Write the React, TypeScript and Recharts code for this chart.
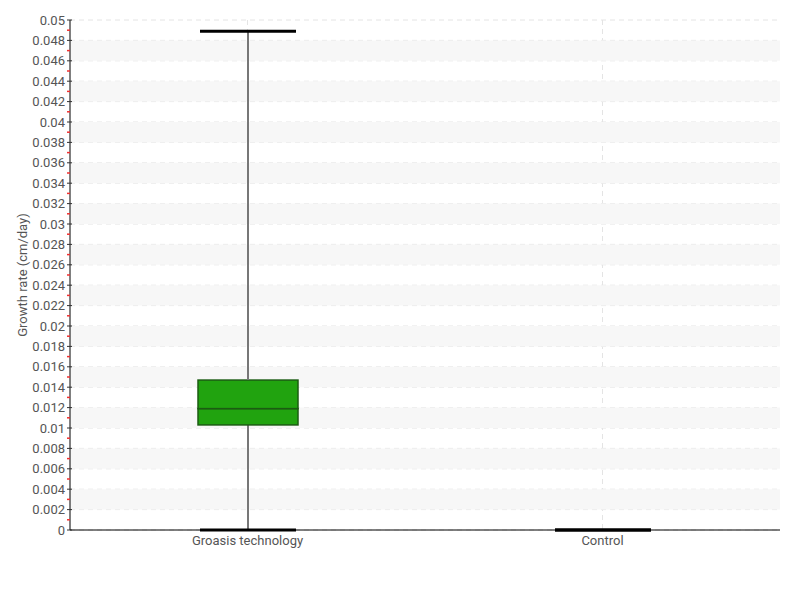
import {
  ComposedChart,
  Bar,
  XAxis,
  YAxis,
  CartesianGrid,
  ReferenceArea,
} from "recharts";

const categories = ["Groasis technology", "Control"];
const mins = [0, 0];
const q1s = [0.0103, 0];
const medians = [0.0119, 0];
const q3s = [0.0147, 0];
const maxs = [0.0489, 0];

const tickLabels = [
  "0", "0.002", "0.004", "0.006", "0.008", "0.01", "0.012", "0.014", "0.016",
  "0.018", "0.02", "0.022", "0.024", "0.026", "0.028", "0.03", "0.032", "0.034",
  "0.036", "0.038", "0.04", "0.042", "0.044", "0.046", "0.048", "0.05",
];
const majorTicks = tickLabels.map((t) => parseFloat(t));
// red minor ticks halfway between labelled ones
const minorTicks = majorTicks.slice(1).map((v, i) => (v + majorTicks[i]) / 2);
const allTicks = [...majorTicks, ...minorTicks].sort((a, b) => a - b);

// shaded horizontal bands [from, to]
const bands = [
  [0.002, 0.004], [0.006, 0.008], [0.01, 0.012], [0.014, 0.016],
  [0.018, 0.02], [0.022, 0.024], [0.026, 0.028], [0.03, 0.032],
  [0.034, 0.036], [0.038, 0.04], [0.042, 0.044], [0.046, 0.048],
];

const data = categories.map((name, i) => ({
  name,
  base: mins[i],
  lowWhisker: q1s[i] - mins[i],
  boxLow: medians[i] - q1s[i],
  boxHigh: q3s[i] - medians[i],
  highWhisker: maxs[i] - q3s[i],
}));

const FONT = "Roboto, 'Liberation Sans Narrow', sans-serif";
const TEXT = "#555";
const CAP = 48;

const LowWhisker = (props: any) => {
  const { x, y, width, height } = props;
  const cx = x + width / 2;
  return (
    <g>
      {height > 0 && <line x1={cx} x2={cx} y1={y} y2={y + height} stroke="#777" strokeWidth={2} />}
      <line x1={cx - CAP} x2={cx + CAP} y1={y + height} y2={y + height} stroke="#000" strokeWidth={3} />
    </g>
  );
};

const HighWhisker = (props: any) => {
  const { x, y, width, height } = props;
  const cx = x + width / 2;
  return (
    <g>
      {height > 0 && <line x1={cx} x2={cx} y1={y} y2={y + height} stroke="#777" strokeWidth={2} />}
      <line x1={cx - CAP} x2={cx + CAP} y1={y} y2={y} stroke="#000" strokeWidth={3} />
    </g>
  );
};

const BoxPart = (props: any) => {
  const { x, y, width, height } = props;
  if (!height) return <g />;
  return (
    <rect x={x} y={y} width={width} height={height} fill="#21a30f" stroke="#1b5c12" strokeWidth={1.5} />
  );
};

const YTick = (props: any) => {
  const { x, y, payload } = props;
  const v = payload.value;
  const idx = majorTicks.findIndex((m) => Math.abs(m - v) < 1e-9);
  if (idx < 0) {
    return <line x1={x - 3} x2={x} y1={y} y2={y} stroke="#f03030" strokeWidth={1.5} />;
  }
  return (
    <g>
      <line x1={x - 3} x2={x + 2} y1={y} y2={y} stroke="#333" strokeWidth={1} />
      <text x={x - 5} y={y} dy={4.5} textAnchor="end" fill={TEXT} fontSize={13} fontFamily={FONT}>
        {tickLabels[idx]}
      </text>
    </g>
  );
};

export default function App() {
  return (
    <div style={{ position: "absolute", left: 0, top: 0, background: "#fff" }}>
      <ComposedChart
        width={800}
        height={600}
        data={data}
        barCategoryGap={0}
        margin={{ top: 20, right: 20, left: 20, bottom: 40 }}>
        {bands.map(([a, b]) => (
          <ReferenceArea key={a} y1={a} y2={b} fill="#f7f7f7" fillOpacity={1} stroke="none" />
        ))}
        <CartesianGrid
          stroke="#e4e4e4"
          strokeDasharray="5 4"
          horizontalValues={majorTicks}
          verticalValues={categories}
        />
        <XAxis
          dataKey="name"
          axisLine={{ stroke: "#000" }}
          tickLine={false}
          height={30}
          tick={{ fill: TEXT, fontSize: 13, fontFamily: FONT }}
          tickMargin={0}
        />
        <YAxis
          width={50}
          domain={[0, 0.05]}
          ticks={allTicks}
          interval={0}
          axisLine={{ stroke: "#000" }}
          tickLine={false}
          tickSize={0}
          tickMargin={0}
          tick={<YTick />}
          label={{
            value: "Growth rate (cm/day)",
            angle: -90,
            position: "insideLeft",
            offset: 2,
            style: { fill: TEXT, fontSize: 13, fontFamily: FONT, textAnchor: "middle" },
          }}
        />
        <Bar dataKey="base" stackId="box" fill="none" barSize={100} isAnimationActive={false} />
        <Bar dataKey="lowWhisker" stackId="box" barSize={100} shape={<LowWhisker />} isAnimationActive={false} />
        <Bar dataKey="boxLow" stackId="box" barSize={100} shape={<BoxPart />} isAnimationActive={false} />
        <Bar dataKey="boxHigh" stackId="box" barSize={100} shape={<BoxPart />} isAnimationActive={false} />
        <Bar dataKey="highWhisker" stackId="box" barSize={100} shape={<HighWhisker />} isAnimationActive={false} />
      </ComposedChart>
    </div>
  );
}
